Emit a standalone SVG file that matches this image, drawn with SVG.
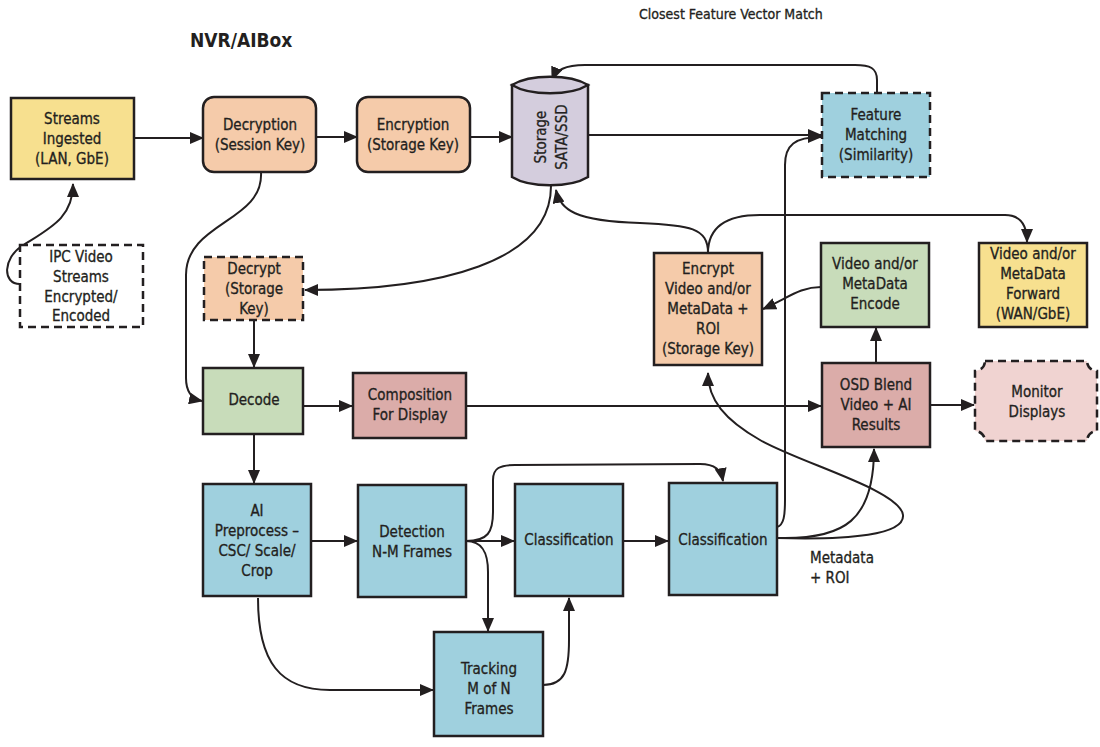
<svg xmlns="http://www.w3.org/2000/svg" width="1100" height="747" viewBox="0 0 1100 747">
<defs>
<style>
.t{font-family:"DejaVu Sans Condensed","DejaVu Sans","Liberation Sans",sans-serif;font-stretch:condensed;font-size:15px;fill:#231F20;stroke:#231F20;stroke-width:0.3;text-anchor:middle}
.b{stroke:#231F20;stroke-width:2.5}
.d{stroke-dasharray:8,5}
.c{fill:none;stroke:#231F20;stroke-width:2;marker-end:url(#ah)}
.yel{fill:#F7E08F}.pch{fill:#F5CBAA}.blu{fill:#9FD0DE}.grn{fill:#C8DCBA}.pnk{fill:#DBACA9}.lav{fill:#D4CDDD}
</style>
<marker id="ah" markerUnits="userSpaceOnUse" markerWidth="14" markerHeight="12" viewBox="0 0 14 12" refX="13" refY="6" orient="auto">
<path d="M0,0 L14,6 L0,12 Z" fill="#231F20"/>
</marker>
</defs>
<rect width="1100" height="747" fill="#ffffff"/>
<text x="190" y="47" class="t" style="text-anchor:start;font-size:19px;font-weight:bold;stroke-width:0">NVR/AIBox</text>
<text x="639" y="19" class="t" style="text-anchor:start;font-size:14px">Closest Feature Vector Match</text>

<g id="connectors">
<path class="c" d="M134,138 L203,138"/>
<path class="c" d="M316,137 L357,137"/>
<path class="c" d="M470,137 L512,137"/>
<path class="c" d="M588,135 L821,135"/>
<path class="c" d="M877,93 L877,80 C877,68 870,65 855,65 L585,65 C565,65 556,70 552,80"/>
<path class="c" d="M20,284 C2,284 3,258 22,246 C50,228 73,218 73,184"/>
<path class="c" d="M261,172 C264,222 186,222 186,275 L186,378 C186,392 192,399 202,401"/>
<path class="c" d="M254,320 L254,367"/>
<path class="c" d="M551,186 C551,262 440,290 305,290"/>
<path class="c" d="M708,253 C708,228 690,225 640,223 C575,221 560,210 556,190"/>
<path class="c" d="M708,253 C708,228 725,215 760,215 L1005,215 C1020,215 1027,225 1027,242"/>
<path class="c" d="M821,287 C800,287 788,298 763,309"/>
<path class="c" d="M876,363 L876,328"/>
<path class="c" d="M930,405 L974,405"/>
<path class="c" d="M466,406 L821,406"/>
<path class="c" d="M303,406 L352,406"/>
<path class="c" d="M254,434 L254,483"/>
<path class="c" d="M311,541 L357,541"/>
<path class="c" d="M466,541 L514,541"/>
<path class="c" d="M466,541 C488,541 493,532 493,512 L493,480 C493,468 500,465 515,465 L700,464 C715,464 721,470 723,481"/>
<path class="c" d="M466,541 C482,541 488,552 488,572 L488,631"/>
<path class="c" d="M623,541 L668,541"/>
<path class="c" d="M543,685 C565,685 569,670 569,640 L569,598"/>
<path class="c" d="M258,598 C258,662 280,690 330,690 L433,690"/>
<path class="c" d="M777,527 C784,525 785,515 785,500 L785,165 C785,145 795,137 821,137"/>
<path class="c" d="M777,538 C845,540 874,520 874,449"/>
<path class="c" d="M777,538 C850,540 905,535 903,515 C900,490 800,463 760,440 C725,420 708,400 708,373"/>
</g>

<g id="streams"><rect class="b yel" x="11" y="98" width="123" height="81"/>
<text class="t" x="72" y="124">Streams</text><text class="t" x="72" y="144">Ingested</text><text class="t" x="72" y="164">(LAN, GbE)</text></g>

<g id="decryption"><rect class="b pch" x="203" y="97" width="113" height="75" rx="11"/>
<text class="t" x="260" y="130">Decryption</text><text class="t" x="260" y="150">(Session Key)</text></g>

<g id="encryption"><rect class="b pch" x="357" y="97" width="113" height="75" rx="11"/>
<text class="t" x="413" y="130">Encryption</text><text class="t" x="413" y="150">(Storage Key)</text></g>

<g id="storage">
<path class="b lav" d="M512,85 L512,177 C530,188 570,188 588,177 L588,85 Z"/>
<path class="b lav" d="M512,85 C530,74 570,74 588,85 C570,96 530,96 512,85 Z"/>
<g transform="translate(550,137) rotate(-90)"><text class="t" x="0" y="-4">Storage</text><text class="t" x="0" y="17">SATA/SSD</text></g>
</g>

<g id="feature"><rect class="b d blu" x="822" y="93" width="108" height="84"/>
<text class="t" x="876" y="120">Feature</text><text class="t" x="876" y="140">Matching</text><text class="t" x="876" y="160">(Similarity)</text></g>

<g id="ipc"><rect class="b d" fill="#ffffff" x="20" y="245" width="123" height="82"/>
<text class="t" x="81" y="262">IPC Video</text><text class="t" x="81" y="282">Streams</text><text class="t" x="81" y="302">Encrypted/</text><text class="t" x="81" y="321">Encoded</text></g>

<g id="decrypt"><rect class="b d pch" x="204" y="257" width="99" height="63"/>
<text class="t" x="254" y="274">Decrypt</text><text class="t" x="254" y="294">(Storage</text><text class="t" x="254" y="314">Key)</text></g>

<g id="encrypt"><rect class="b pch" x="654" y="253" width="108" height="112"/>
<text class="t" x="708" y="274">Encrypt</text><text class="t" x="708" y="294">Video and/or</text><text class="t" x="708" y="314">MetaData +</text><text class="t" x="708" y="334">ROI</text><text class="t" x="708" y="354">(Storage Key)</text></g>

<g id="encode"><rect class="b grn" x="821" y="243" width="108" height="84"/>
<text class="t" x="875" y="269">Video and/or</text><text class="t" x="875" y="289">MetaData</text><text class="t" x="875" y="309">Encode</text></g>

<g id="forward"><rect class="b yel" x="979" y="243" width="108" height="84"/>
<text class="t" x="1033" y="259">Video and/or</text><text class="t" x="1033" y="279">MetaData</text><text class="t" x="1033" y="299">Forward</text><text class="t" x="1033" y="319">(WAN/GbE)</text></g>

<g id="osd"><rect class="b pnk" x="822" y="363" width="108" height="84"/>
<text class="t" x="876" y="390">OSD Blend</text><text class="t" x="876" y="410">Video + AI</text><text class="t" x="876" y="430">Results</text></g>

<g id="monitor"><path class="b d" fill="#F0D3D1" d="M985,361 L1087,361 A10,10 0 0 0 1097,371 L1097,431 A10,10 0 0 0 1087,441 L985,441 A10,10 0 0 0 975,431 L975,371 A10,10 0 0 0 985,361 Z"/>
<text class="t" x="1037" y="397">Monitor</text><text class="t" x="1037" y="417">Displays</text></g>

<g id="decode"><rect class="b grn" x="203" y="368" width="100" height="66"/>
<text class="t" x="254" y="405">Decode</text></g>

<g id="composition"><rect class="b pnk" x="353" y="373" width="113" height="65"/>
<text class="t" x="410" y="400">Composition</text><text class="t" x="410" y="420">For Display</text></g>

<g id="preprocess"><rect class="b blu" x="203" y="484" width="108" height="112"/>
<text class="t" x="257" y="516">AI</text><text class="t" x="257" y="536">Preprocess –</text><text class="t" x="257" y="556">CSC/ Scale/</text><text class="t" x="257" y="576">Crop</text></g>

<g id="detection"><rect class="b blu" x="358" y="485" width="108" height="112"/>
<text class="t" x="412" y="537">Detection</text><text class="t" x="412" y="557">N-M Frames</text></g>

<g id="class1"><rect class="b blu" x="515" y="484" width="108" height="112"/>
<text class="t" x="569" y="545">Classification</text></g>

<g id="class2"><rect class="b blu" x="669" y="483" width="108" height="112"/>
<text class="t" x="723" y="545">Classification</text></g>

<g id="tracking"><rect class="b blu" x="434" y="632" width="109" height="104"/>
<text class="t" x="489" y="674">Tracking</text><text class="t" x="489" y="694">M of N</text><text class="t" x="489" y="714">Frames</text></g>

<g id="metadata-label"><text class="t" x="810" y="563" style="text-anchor:start">Metadata</text><text class="t" x="810" y="583" style="text-anchor:start">+ ROI</text></g>
</svg>
